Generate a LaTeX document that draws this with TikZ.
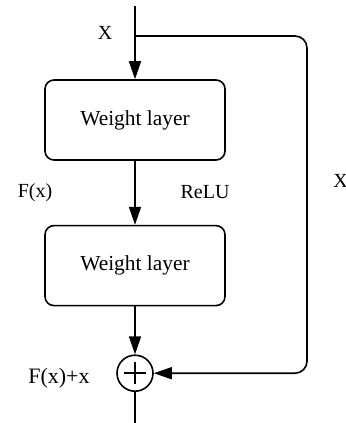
\documentclass[tikz,border=0pt]{standalone}
\usepackage{fontspec}
\setmainfont{Liberation Serif}
\usetikzlibrary{arrows.meta,positioning,calc}
\tikzset{
  font=\fontsize{10}{12}\selectfont,
  line/.style ={line width=0.8pt},
  arr/.style  ={line, -{Triangle[length=9pt, width=6pt]}},
  layer/.style={draw, line width=0.8pt, rounded corners=4.5pt, minimum width=90pt, minimum height=40pt,
                font=\fontsize{10.7}{12}\selectfont},
  adder/.style={draw, circle, line width=0.8pt, minimum size=18pt, inner sep=0pt},
  lbl/.style  ={inner sep=0pt},
}
\begin{document}
\begin{tikzpicture}
  \useasboundingbox (0,0) rectangle (172.5pt,-211.5pt);
  \coordinate (in) at (67.5pt,-3pt);
  \coordinate (fork) at (67.5pt,-18pt);
  \node[layer] (wl1) at (67.5pt,-60pt) {Weight layer};
  \node[layer, below=32pt of wl1] (wl2) {Weight layer};
  \node[adder, below=24pt of wl2] (add) {};
  \coordinate (skip) at ($(add)+(86pt,0)$);
  \coordinate (out) at ($(add)+(0,-25pt)$);

  % plus sign inside the adder
  \draw[line] ($(add)+(-5.5pt,0)$) -- ($(add)+(5.5pt,0)$);
  \draw[line] ($(add)+(0,-5.5pt)$) -- ($(add)+(0,5.5pt)$);

  \draw[arr] (in) -- (wl1);
  \draw[arr] (wl1) -- (wl2);
  \draw[arr] (wl2) -- (add);
  \draw[line] (add) -- (out);
  \draw[arr, rounded corners=6pt] (fork) -| (skip) -- (add);

  \node[lbl] (xin)  at (52.5pt,-16.5pt) {X};
  \node[lbl] (fx)   at (17.5pt,-96.5pt) {F(x)};
  \node[lbl] (relu) at (102.5pt,-96pt) {ReLU};
  \node[lbl, anchor=west] (xskip) at (166.5pt,-90.5pt) {X};
  \node[lbl, font=\fontsize{11}{12}\selectfont] (sum) at (29.5pt,-189pt) {F(x)+x};
\end{tikzpicture}
\end{document}
